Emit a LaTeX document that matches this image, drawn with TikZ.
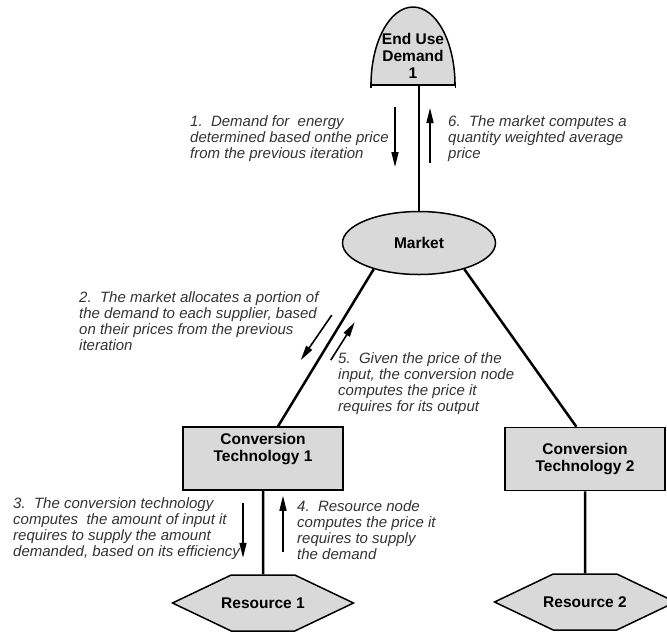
\documentclass[tikz,border=0pt]{standalone}
\usepackage{fontspec}
\setmainfont{Liberation Sans}
\usetikzlibrary{shapes.geometric,shapes.symbols,arrows.meta,calc}

\tikzstyle{bright}=[fill=black!15]
\tikzstyle{nodetext}=[font=\bfseries\fontsize{15.5}{17}\selectfont, align=center]
\tikzstyle{market}=[ellipse, draw=black, line width=1.5pt, minimum width=153pt, minimum height=63pt, nodetext]
\tikzstyle{convbox}=[rectangle, draw=black, line width=1.5pt, minimum width=160pt, minimum height=63pt, nodetext]
\tikzstyle{resource}=[signal, signal to=east and west, signal pointer angle=51, draw=black, line width=1.5pt, inner xsep=-10pt, minimum height=56pt, nodetext]
\tikzstyle{note}=[anchor=north west, inner sep=0pt, align=left, text=black!80, font=\itshape\fontsize{15}{16}\selectfont]
\tikzstyle{link}=[line width=2.5pt]
\tikzstyle{flow}=[line width=1.6pt, -{Triangle[length=15pt,width=7pt]}]

\begin{document}
\begin{tikzpicture}[x=1pt, y=-1pt]
	\useasboundingbox (0,0) rectangle (667,633);

	% Nachfrage oben
	\draw[bright, line width=1.5pt] (371,85) arc[start angle=180, end angle=0, x radius=42pt, y radius=78pt] -- cycle;
	\draw[line width=1.5pt, {Bar[width=6pt]}-{Bar[width=6pt]}] (370,85) -- (456,85);
	\node(demand) at (413,56) [nodetext] {End Use\\Demand\\1};
	\coordinate(demandbase) at (419,85);

	% Markt und Umwandlung
	\node(market) at (419,243) [market, bright] {Market};
	\node(ct1) at (263,458.5) [convbox, bright] {Conversion\\Technology 1\\\strut};
	\node(ct2) at (585,459) [convbox, bright] {Conversion\\Technology 2};

	% Ressourcen unten
	\node(res1) at (263,603) [resource, bright] {Resource 1};
	\node(res2) at (585,602) [resource, bright] {Resource 2};

	\draw[link] (demandbase) -- (market);
	\draw[link] (market.210) -- (ct1.65);
	\draw[link] (market.330) -- (ct2.105);
	\draw[link] (ct1) -- (res1);
	\draw[link] (ct2) -- (res2);

	% Pfeile entlang der Kanten
	\draw[flow] ($(demandbase)+(-24,22)$) -- ++(0,60);
	\draw[flow] ($(demandbase)+(11,78)$) -- ++(0,-55);
	\draw[flow] ($(market.210)+(-42,46)$) -- ++(-31,45);
	\draw[flow] ($(market.210)+(-43,91)$) -- ++(24,-38);
	\draw[flow] ($(ct1.south)+(-20,12)$) -- ++(0,55);
	\draw[flow] ($(ct1.south)+(20,61)$) -- ++(0,-56);

	% Beschriftungen
	\node(note1) at (190,115) [note] {1.\ \ Demand for\ \ energy\\determined based onthe price\\from the previous iteration};
	\node(note6) at (448,115) [note] {6.\ \ The market computes a\\quantity weighted average\\price};
	\node(note2) at (79,291) [note] {2.\ \ The market allocates a portion of\\the demand to each supplier, based\\on their prices from the previous\\iteration};
	\node(note5) at (338,352) [note] {5.\ \ Given the price of the\\input, the conversion node\\computes the price it\\requires for its output};
	\node(note3) at (13,497) [note] {3.\ \ The conversion technology\\computes\ \ the amount of input it\\requires to supply the amount\\demanded, based on its efficiency};
	\node(note4) at (297,500) [note] {4.\ \ Resource node\\computes the price it\\requires to supply\\the demand};

\end{tikzpicture}
\end{document}
